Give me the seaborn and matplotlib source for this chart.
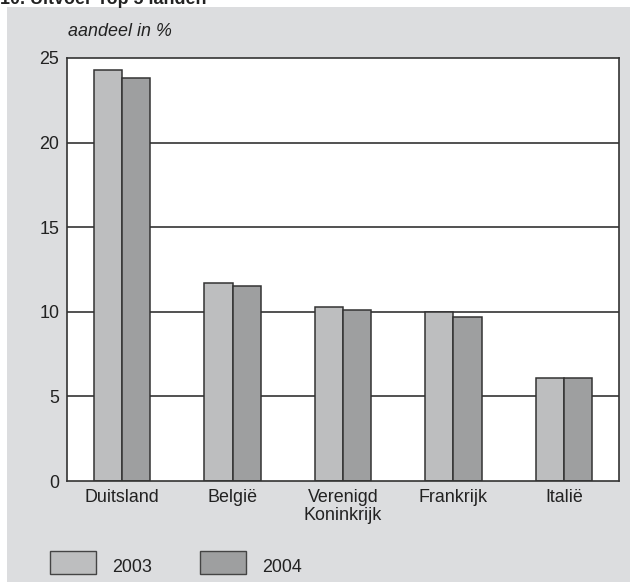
import matplotlib
matplotlib.use("Agg")
import matplotlib.pyplot as plt
import seaborn as sns
import pandas as pd
from matplotlib.patches import Rectangle

categories = ["Duitsland", "België", "Verenigd\nKoninkrijk", "Frankrijk", "Italië"]
years = ["2003", "2004"]
values_2003 = [24.3, 11.7, 10.3, 10.0, 6.1]
values_2004 = [23.8, 11.5, 10.1, 9.7, 6.1]
yticks = [0, 5, 10, 15, 20, 25]

df = pd.DataFrame({
    "land": categories * 2,
    "jaar": [years[0]] * 5 + [years[1]] * 5,
    "aandeel": values_2003 + values_2004,
})

sns.set_theme(style="white")
plt.rcParams["font.family"] = ["Liberation Sans", "DejaVu Sans"]
FS = 12.9
TXT = "#222222"

fig = plt.figure(figsize=(6.3, 5.82), dpi=100)
fig.patch.set_facecolor("white")
fig.patches.append(Rectangle((7 / 630, 0), 1 - 7 / 630, 1 - 7 / 582,
                             transform=fig.transFigure, facecolor="#dcdddf",
                             edgecolor="none", zorder=-5))
fig.text(0.0, 1 - 4.5 / 582, "10. Uitvoer Top 5 landen", fontsize=FS,
         fontweight="bold", ha="left", va="baseline", color=TXT)

ax = fig.add_axes([67 / 630, 1 - 481 / 582, 552 / 630, 423 / 582])
ax.set_zorder(1)
ax.set_facecolor("white")
palette = {"2003": "#bdbebf", "2004": "#9e9fa0"}
sns.barplot(data=df, x="land", y="aandeel", hue="jaar", hue_order=years,
            order=categories, palette=palette, width=0.51, ax=ax,
            edgecolor="#333333", linewidth=1.1, legend=False, saturation=1)

ax.set_ylim(0, 25)
ax.set_xlim(-0.5, 4.5)
ax.set_yticks(yticks)
ax.set_yticklabels([str(t) for t in yticks])
for y in yticks[1:-1]:
    ax.axhline(y, color="#222222", linewidth=1.1, zorder=0.5)
for s in ax.spines.values():
    s.set_visible(True)
    s.set_color("#333333")
    s.set_linewidth(1.2)
ax.tick_params(axis="both", length=0, labelsize=FS, colors=TXT)
ax.tick_params(axis="y", pad=5.5)
ax.tick_params(axis="x", pad=6)
for lbl in ax.get_xticklabels():
    lbl.set_linespacing(1.05)
ax.set_xlabel("")
ax.set_ylabel("")

fig.text(68 / 630, 1 - 31 / 582, "aandeel in %", fontsize=FS, style="italic",
         ha="left", va="center", color=TXT)

# legend
for i, yr in enumerate(years):
    x0 = [50, 200][i]
    fig.patches.append(Rectangle((x0 / 630, 1 - 574 / 582), 46 / 630, 23 / 582,
                                 transform=fig.transFigure, facecolor=palette[yr],
                                 edgecolor="#444444", linewidth=1.0, zorder=2))
    fig.text((x0 + 62) / 630, 1 - 567 / 582, yr, fontsize=FS, ha="left",
             va="center", color=TXT)

fig.savefig("out.png", dpi=100)
